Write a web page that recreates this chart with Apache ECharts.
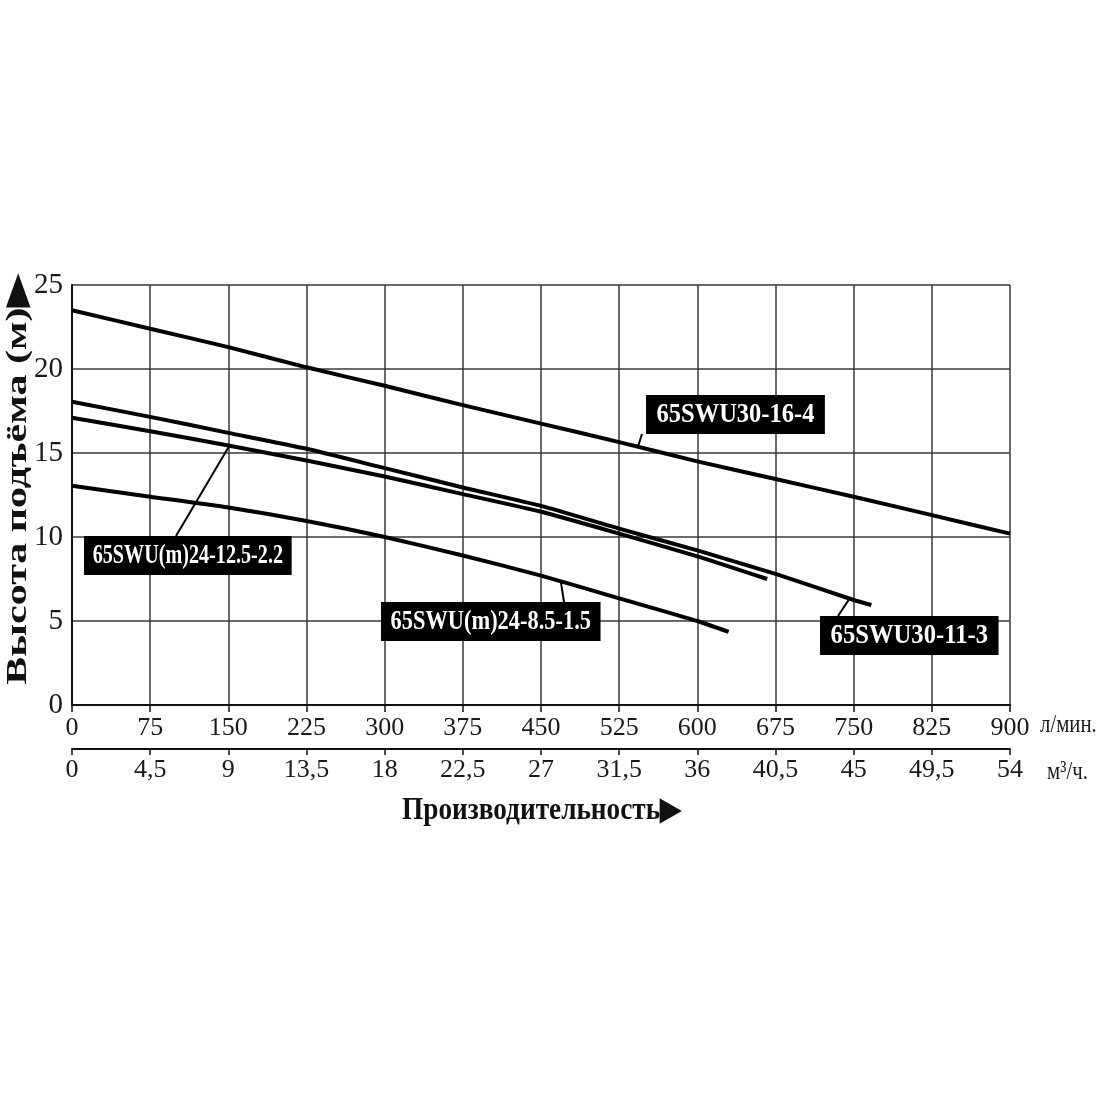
<!DOCTYPE html>
<html>
<head>
<meta charset="utf-8">
<script src="https://cdn.jsdelivr.net/npm/echarts@6/dist/echarts.min.js"></script>
<style>
  html, body { margin: 0; background: #fff; }
  #chart { width: 1100px; height: 1100px; }
</style>
</head>
<body>
<div id="chart"></div>
<script>
// расход, л/мин и напор, м
var flow_16_4 = [0, 75, 150, 225, 300, 375, 450, 525, 600, 675, 750, 825, 900];
var head_16_4 = [23.5, 22.4, 21.3, 20.1, 19.0, 17.85, 16.75, 15.65, 14.5, 13.45, 12.4, 11.3, 10.2];

var flow_11_3 = [0, 75, 150, 225, 300, 375, 450, 525, 600, 675, 750, 767];
var head_11_3 = [18.05, 17.15, 16.2, 15.25, 14.1, 12.95, 11.85, 10.5, 9.2, 7.8, 6.25, 5.95];

var flow_125 = [0, 75, 150, 225, 300, 375, 450, 525, 600, 667];
var head_125 = [17.1, 16.3, 15.45, 14.55, 13.6, 12.55, 11.5, 10.2, 8.85, 7.5];

var flow_85 = [0, 75, 150, 225, 300, 375, 450, 525, 600, 630];
var head_85 = [13.05, 12.4, 11.75, 10.95, 10.0, 8.9, 7.7, 6.35, 5.0, 4.35];

var names = ['65SWU30-16-4', '65SWU30-11-3', '65SWU(m)24-12.5-2.2', '65SWU(m)24-8.5-1.5'];

var serif = '"Liberation Serif", "Times New Roman", serif';

function pairs(xs, ys) {
    return xs.map(function (x, i) { return [x, ys[i]]; });
}
function lineSeries(name, xs, ys) {
    return {
        name: name,
        type: 'line',
        data: pairs(xs, ys),
        smooth: 0.2,
        symbol: 'none',
        lineStyle: { color: '#000', width: 4 },
        z: 5
    };
}

var myChart = echarts.init(document.getElementById('chart'));

var option = {
    animation: false,
    backgroundColor: '#fff',
    grid: { left: 72, right: 90, top: 285, bottom: 395, containLabel: false },
    xAxis: [{
        type: 'value',
        min: 0, max: 900, interval: 75,
        axisLine: { show: true, lineStyle: { color: '#111', width: 2 } },
        axisTick: { show: true, length: 7, lineStyle: { color: '#111', width: 1.5 } },
        axisLabel: { fontFamily: serif, fontSize: 26, color: '#1a1a1a', margin: 10 },
        splitLine: { show: true, lineStyle: { color: '#3a3a3a', width: 1.5 } }
    }, {
        type: 'value',
        position: 'bottom',
        offset: 44,
        min: 0, max: 54, interval: 4.5,
        axisLine: { show: true, lineStyle: { color: '#111', width: 2 } },
        axisTick: { show: true, length: 6, lineStyle: { color: '#111', width: 1.5 } },
        axisLabel: {
            fontFamily: serif, fontSize: 26, color: '#1a1a1a', margin: 8,
            formatter: function (v) { return String(v).replace('.', ','); }
        },
        splitLine: { show: false }
    }],
    yAxis: {
        type: 'value',
        min: 0, max: 25, interval: 5,
        axisLine: { show: true, lineStyle: { color: '#111', width: 2 } },
        axisTick: { show: false },
        axisLabel: { fontFamily: serif, fontSize: 29, color: '#1a1a1a', margin: 9 },
        splitLine: { show: true, lineStyle: { color: '#3a3a3a', width: 1.5 } }
    },
    series: [
        lineSeries(names[0], flow_16_4, head_16_4),
        lineSeries(names[1], flow_11_3, head_11_3),
        lineSeries(names[2], flow_125, head_125),
        lineSeries(names[3], flow_85, head_85)
    ]
};
myChart.setOption(option);

// точка на кривой для выноски
function onCurve(xs, ys, x) {
    for (var i = 1; i < xs.length; i++) {
        if (x <= xs[i]) {
            var t = (x - xs[i - 1]) / (xs[i] - xs[i - 1]);
            return [x, ys[i - 1] + t * (ys[i] - ys[i - 1])];
        }
    }
    return [xs[xs.length - 1], ys[ys.length - 1]];
}
function px(pt) {
    return myChart.convertToPixel({ xAxisIndex: 0, yAxisIndex: 0 }, pt);
}

var callouts = [
    { text: names[0], box: [646, 395], sx: 0.875, from: [642, 434], at: onCurve(flow_16_4, head_16_4, 543) },
    { text: names[1], box: [820, 616], sx: 0.88, from: [838, 616], at: onCurve(flow_11_3, head_11_3, 746) },
    { text: names[2], box: [84, 536], sx: 0.72, from: [176, 536], at: onCurve(flow_125, head_125, 151) },
    { text: names[3], box: [381, 602], sx: 0.8, from: [564, 602], at: onCurve(flow_85, head_85, 469) }
];

var graphics = [];
callouts.forEach(function (c, i) {
    var p = px(c.at);
    graphics.push({
        type: 'line', id: 'lead' + i, z: 20,
        shape: { x1: c.from[0], y1: c.from[1], x2: p[0], y2: p[1] },
        style: { stroke: '#000', lineWidth: 2 }
    });
    graphics.push({
        type: 'text', id: 'box' + i, z: 30,
        x: c.box[0], y: c.box[1], scaleX: c.sx,
        style: {
            text: c.text, fill: '#fff',
            font: 'bold 28px ' + serif,
            backgroundColor: '#000',
            padding: [6, 12, 5, 12],
            textAlign: 'left', textVerticalAlign: 'top'
        }
    });
});

graphics.push({
    type: 'text', id: 'ytitle', x: 18, y: 480, rotation: Math.PI / 2, scaleX: 1.4,
    style: {
        text: 'Высота подъёма (м)\u25B6', fill: '#111',
        font: 'bold 30px ' + serif,
        textAlign: 'center', textVerticalAlign: 'middle'
    }
});
graphics.push({
    type: 'text', id: 'xtitle', x: 402, y: 811, scaleX: 0.88,
    style: {
        text: 'Производительность\u25B6', fill: '#111',
        font: 'bold 31px ' + serif,
        textAlign: 'left', textVerticalAlign: 'middle'
    }
});
graphics.push({
    type: 'text', id: 'unit1', x: 1040, y: 725, scaleX: 0.8,
    style: { text: 'л/мин.', fill: '#1a1a1a', font: '26px ' + serif, textAlign: 'left', textVerticalAlign: 'middle' }
});
graphics.push({
    type: 'text', id: 'unit2', x: 1047, y: 772, scaleX: 0.8,
    style: { text: 'м³/ч.', fill: '#1a1a1a', font: '26px ' + serif, textAlign: 'left', textVerticalAlign: 'middle' }
});

myChart.setOption({ graphic: graphics });
</script>
</body>
</html>
